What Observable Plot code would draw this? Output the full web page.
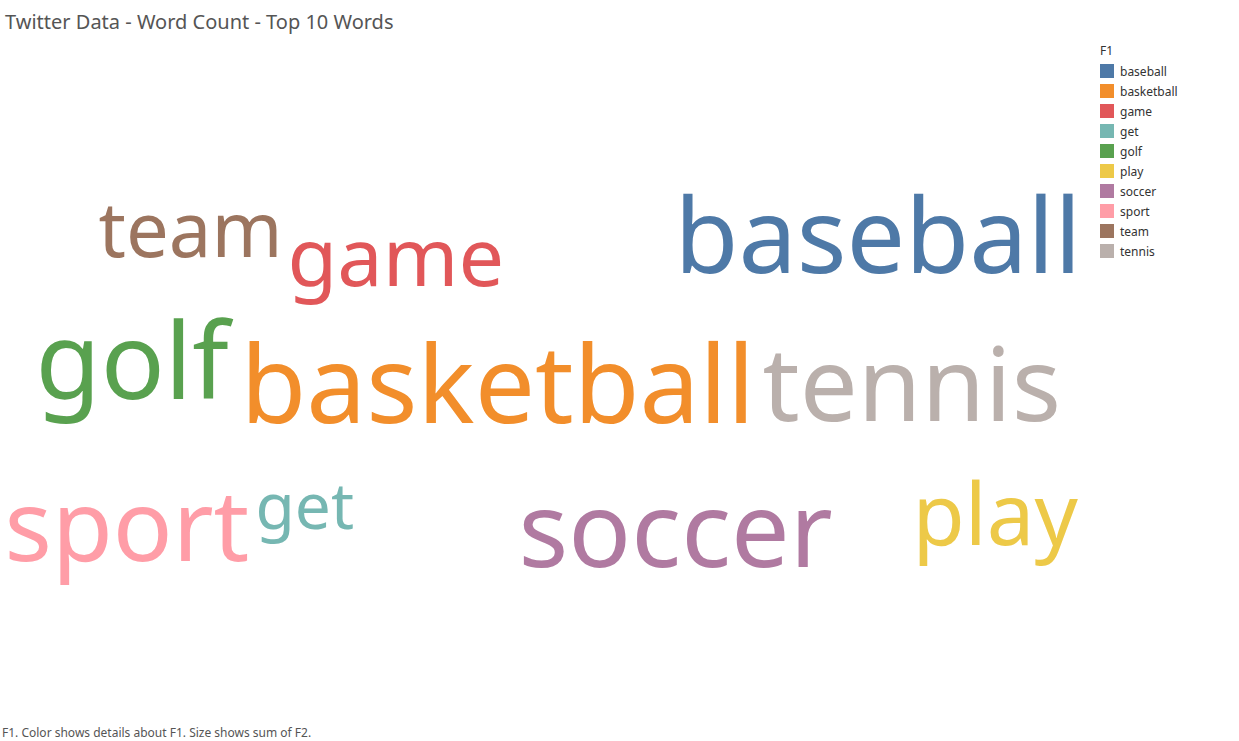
<!DOCTYPE html>
<html><head><meta charset="utf-8">
<script src="https://cdn.jsdelivr.net/npm/d3@7"></script>
<script src="https://cdn.jsdelivr.net/npm/@observablehq/plot@0.6"></script>
<style>
body{margin:0;background:#fff;font-family:"Noto Sans",sans-serif;width:1239px;height:741px;position:relative;overflow:hidden}
#title{position:absolute;left:5px;top:8px;font-size:20px;color:#555}
#chart{position:absolute;left:0;top:0}
#legend{position:absolute;left:1100px;top:42px;font-size:12px;color:#333}
#legend .h{font-size:12px;margin-bottom:2px}
#legend .r{display:flex;align-items:center;height:20px}
#legend .s{width:14px;height:14px;margin-right:6px}
#cap{position:absolute;left:2px;top:724px;font-size:12px;color:#555}
</style></head><body>
<div id="chart"></div>
<div id="title">Twitter Data - Word Count - Top 10 Words</div>
<div id="legend"></div>
<div id="cap">F1.  Color shows details about F1.  Size shows sum of F2.</div>
<script>
const words  = ["baseball","basketball","game","get","golf","play","soccer","sport","team","tennis"];
const counts = [104,107,81,64,106,85,104,99,76,103];
const colors = ["#4e79a7","#f28e2b","#e15759","#76b7b2","#59a14f","#edc948","#b07aa1","#ff9da7","#9c755f","#bab0ac"];
// layout positions of the cloud (left x, baseline y)
const layoutX = [674,240,287,255,35,912,518,4,98,762];
const layoutY = [272,422,285,528,398,544,566,560,256,420];

const data = words.map((w,i)=>({word:w,count:counts[i],x:layoutX[i],y:layoutY[i]}));
const fam = "Noto Sans";
const chart = Plot.plot({
  width:1239,height:741,margin:0,
  x:{domain:[0,1239],axis:null},
  y:{domain:[0,741],range:[0,741],axis:null},
  color:{domain:words,range:colors},
  marks:[
    Plot.text(data,{x:"x",y:"y",text:"word",fill:"word",fontSize:"count",textAnchor:"start",lineAnchor:"bottom",fontFamily:fam})
  ]
});
document.getElementById("chart").append(chart);
const lg=document.getElementById("legend");
lg.innerHTML='<div class="h">F1</div>'+words.map((w,i)=>`<div class="r"><div class="s" style="background:${colors[i]}"></div>${w}</div>`).join("");
</script>
</body></html>
